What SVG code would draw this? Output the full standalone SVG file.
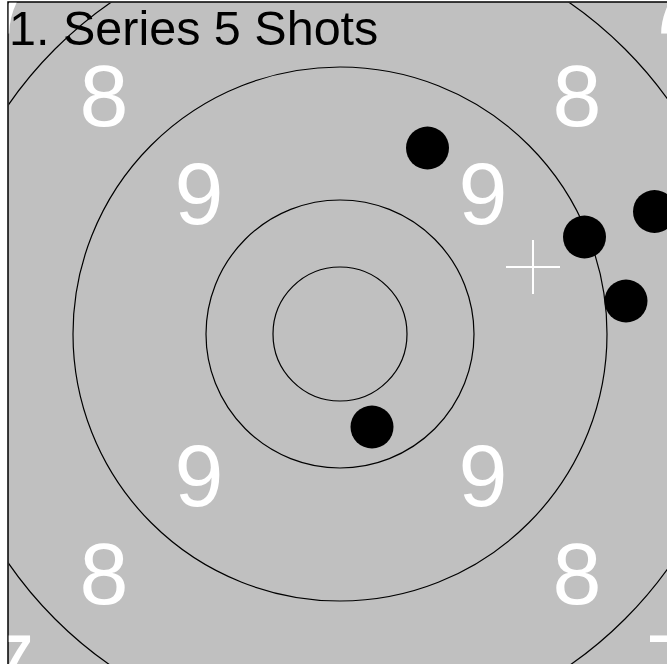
<svg xmlns="http://www.w3.org/2000/svg" width="667" height="664" viewBox="0 0 667 664">
<style>
.ring{fill:none;stroke:#000;stroke-width:1.2}
.num{font-family:"Liberation Sans",Arial,sans-serif;font-size:88px;fill:#fff;text-anchor:middle}
.shot{fill:#000}
</style>
<defs>
<clipPath id="area"><rect x="8.75" y="2.75" width="670" height="670"/></clipPath>
</defs>
<rect x="0" y="0" width="667" height="664" fill="#fff"/>
<g id="target">
<rect x="8" y="2" width="670" height="670" fill="#c0c0c0" stroke="#000" stroke-width="1.5"/>
<g clip-path="url(#area)">
<circle class="ring" cx="340" cy="334" r="67"/>
<circle class="ring" cx="340" cy="334" r="134"/>
<circle class="ring" cx="340" cy="334" r="267"/>
<circle class="ring" cx="340" cy="334" r="403"/>
</g>
</g>
<g id="numbers" clip-path="url(#area)">
<text class="num" x="104" y="126">8</text>
<text class="num" x="577" y="126">8</text>
<text class="num" x="104" y="604">8</text>
<text class="num" x="577" y="604">8</text>
<text class="num" x="199" y="224">9</text>
<text class="num" x="483" y="224">9</text>
<text class="num" x="199" y="506">9</text>
<text class="num" x="483" y="506">9</text>
<text class="num" x="10" y="34">7</text>
<text class="num" x="670" y="34">7</text>
<text class="num" x="10" y="696">7</text>
<text class="num" x="670" y="696">7</text>
</g>
<g id="title">
<text x="9" y="45" font-family="'Liberation Sans',Arial,sans-serif" font-size="48.5" fill="#000">1. Series 5 Shots</text>
</g>
<g id="shots">
<circle class="shot" cx="427.5" cy="148" r="21.5"/>
<circle class="shot" cx="654.5" cy="211.5" r="21.5"/>
<circle class="shot" cx="584.5" cy="237" r="21.5"/>
<circle class="shot" cx="626" cy="301" r="21.5"/>
<circle class="shot" cx="372" cy="427" r="21.5"/>
</g>
<g id="center-mark" stroke="#fff" stroke-width="2">
<line x1="506" y1="267" x2="560" y2="267"/>
<line x1="533" y1="240" x2="533" y2="294"/>
</g>
</svg>
